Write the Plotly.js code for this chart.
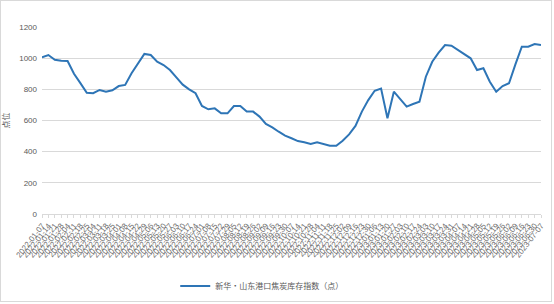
<!DOCTYPE html>
<html>
<head>
<meta charset="utf-8">
<script src="https://cdn.plot.ly/plotly-3.0.1.min.js"></script>
<style>
html,body{margin:0;padding:0;background:#fff;}
#wrap{position:relative;width:554px;height:304px;}
#chart{position:absolute;left:0;top:0;width:554px;height:304px;}
#frame{position:absolute;left:0;top:0;width:550px;height:300px;border:1px solid #d9d9d9;pointer-events:none;}
</style>
</head>
<body>
<div id="wrap"><div id="chart"></div><div id="frame"></div></div>
<script>
const dates = [
"2022-01-07","2022-01-14","2022-01-21","2022-01-28","2022-02-04","2022-02-11","2022-02-18","2022-02-25",
"2022-03-04","2022-03-11","2022-03-18","2022-03-25","2022-04-01","2022-04-08","2022-04-15","2022-04-22",
"2022-04-29","2022-05-06","2022-05-13","2022-05-20","2022-05-27","2022-06-03","2022-06-10","2022-06-17",
"2022-06-24","2022-07-01","2022-07-08","2022-07-15","2022-07-22","2022-07-29","2022-08-05","2022-08-12",
"2022-08-19","2022-08-26","2022-09-02","2022-09-09","2022-09-16","2022-09-23","2022-09-30","2022-10-07",
"2022-10-14","2022-10-21","2022-10-28","2022-11-04","2022-11-11","2022-11-18","2022-11-25","2022-12-02",
"2022-12-09","2022-12-16","2022-12-23","2022-12-30","2023-01-06","2023-01-13","2023-01-20","2023-01-27",
"2023-02-03","2023-02-10","2023-02-17","2023-02-24","2023-03-03","2023-03-10","2023-03-17","2023-03-24",
"2023-03-31","2023-04-07","2023-04-14","2023-04-21","2023-04-28","2023-05-05","2023-05-12","2023-05-19",
"2023-05-26","2023-06-02","2023-06-09","2023-06-16","2023-06-23","2023-06-30","2023-07-07"
];
const indexValues = [
1005,1020,990,983,982,900,840,778,
775,796,785,794,821,828,903,965,
1027,1020,977,956,924,877,830,800,
775,693,672,678,646,646,693,693,
657,657,625,578,556,528,503,486,
468,460,449,460,449,438,438,470,
511,565,657,731,791,805,614,785,
737,689,706,721,881,977,1035,1084,
1080,1053,1026,999,924,935,849,785,
821,839,960,1074,1074,1091,1084
];
const seriesName = "新华・山东港口焦炭库存指数（点）";
const yTicks = [0,200,400,600,800,1000,1200];
const yAxisTitle = "点位";

const cjk = '"Noto Sans CJK SC", "Noto Sans", sans-serif';
const trace = {
  x: dates, y: indexValues, type: 'scatter', mode: 'lines', name: seriesName,
  line: {color: '#2e75b6', width: 2}, showlegend: true
};
const layout = {
  width: 554, height: 304,
  margin: {l: 42, r: 13, t: 27, b: 90, autoexpand: false},
  paper_bgcolor: '#fff', plot_bgcolor: '#fff',
  font: {family: cjk, color: '#595959', size: 8},
  xaxis: {
    type: 'category', range: [0, dates.length - 1], automargin: false,
    tickmode: 'array', tickvals: dates, ticktext: dates,
    tickangle: -52, tickfont: {size: 8, color: '#6f6f6f', family: '"Liberation Sans", sans-serif'},
    ticks: 'outside', ticklen: 3, tickcolor: '#d9d9d9',
    showline: true, linecolor: '#d9d9d9', linewidth: 1,
    showgrid: false, zeroline: false, fixedrange: true
  },
  yaxis: {
    range: [0, 1200], tickvals: yTicks, ticktext: yTicks.map(String), automargin: false,
    tickfont: {size: 8, color: '#595959', family: '"Liberation Sans", sans-serif'},
    showgrid: true, gridcolor: '#d9d9d9', gridwidth: 1, zeroline: false,
    showline: false, ticks: '', ticklabelstandoff: 4,
    title: {text: yAxisTitle, font: {size: 8, color: '#595959', family: cjk}, standoff: 10}
  },
  showlegend: true,
  legend: {
    orientation: 'h', x: 0.267, xanchor: 'left', y: -0.385, yanchor: 'middle',
    font: {size: 8, color: '#595959', family: cjk}, bgcolor: 'rgba(0,0,0,0)'
  }
};
Plotly.newPlot('chart', [trace], layout, {displayModeBar: false, staticPlot: true});
</script>
</body>
</html>
